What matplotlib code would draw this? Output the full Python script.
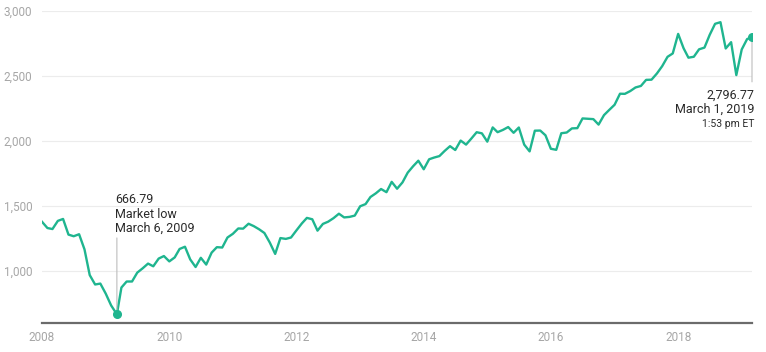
import matplotlib
matplotlib.use("Agg")
import matplotlib.pyplot as plt
import pandas as pd

# S&P 500 monthly closes (plotted at month start), plus the March 2009 low
dates = (
    [f"2008-{m:02d}-01" for m in range(1, 13)]
    + ["2009-01-01", "2009-02-01", "2009-03-06"]
    + [f"2009-{m:02d}-01" for m in range(4, 13)]
    + [f"{y}-{m:02d}-01" for y in range(2010, 2019) for m in range(1, 13)]
    + ["2019-01-01", "2019-02-01", "2019-03-01"]
)
values = [
    1378.55, 1330.63, 1322.70, 1385.59, 1400.38, 1280.00, 1267.38, 1282.83, 1166.36, 968.75, 896.24, 903.25,
    825.88, 735.09, 666.79, 872.81, 919.14, 919.32, 987.48, 1020.62, 1057.08, 1036.19, 1095.63, 1115.10,
    1073.87, 1104.49, 1169.43, 1186.69, 1089.41, 1030.71, 1101.60, 1049.33, 1141.20, 1183.26, 1180.55, 1257.64,
    1286.12, 1327.22, 1325.83, 1363.61, 1345.20, 1320.64, 1292.28, 1218.89, 1131.42, 1253.30, 1246.96, 1257.60,
    1312.41, 1365.68, 1408.47, 1397.91, 1310.33, 1362.16, 1379.32, 1406.58, 1440.67, 1412.16, 1416.18, 1426.19,
    1498.11, 1514.68, 1569.19, 1597.57, 1630.74, 1606.28, 1685.73, 1632.97, 1681.55, 1756.54, 1805.81, 1848.36,
    1782.59, 1859.45, 1872.34, 1883.95, 1923.57, 1960.23, 1930.67, 2003.37, 1972.29, 2018.05, 2067.56, 2058.90,
    1994.99, 2104.50, 2067.89, 2085.51, 2107.39, 2063.11, 2103.84, 1972.18, 1920.03, 2079.36, 2080.41, 2043.94,
    1940.24, 1932.23, 2059.74, 2065.30, 2096.95, 2098.86, 2173.60, 2170.95, 2168.27, 2126.15, 2198.81, 2238.83,
    2278.87, 2363.64, 2362.72, 2384.20, 2411.80, 2423.41, 2470.30, 2471.65, 2519.36, 2575.26, 2647.58, 2673.61,
    2823.81, 2713.83, 2640.87, 2648.05, 2705.27, 2718.37, 2816.29, 2901.52, 2913.98, 2711.74, 2760.17, 2506.85,
    2704.10, 2784.49, 2796.77,
]
low_date, low_value = "2009-03-06", 666.79
last_date, last_value = "2019-03-01", 2796.77
y_ticks = [1000, 1500, 2000, 2500, 3000]
x_years = [2008, 2010, 2012, 2014, 2016, 2018]

TEAL = "#1fb58f"
plt.rcParams["font.family"] = ["Roboto", "DejaVu Sans"]

df = pd.DataFrame({"date": pd.to_datetime(dates), "value": values})

fig = plt.figure(figsize=(7.66, 3.52), dpi=100)
ax = fig.add_axes([42 / 766, 29 / 352, 710 / 766, 312 / 352])

ax.plot(df["date"], df["value"], color=TEAL, lw=1.7, solid_joinstyle="round", zorder=3)

for d, v in [(low_date, low_value), (last_date, last_value)]:
    ax.plot(pd.Timestamp(d), v, "o", color=TEAL, ms=5.5, zorder=4)

ax.set_xlim(pd.Timestamp("2008-01-01"), pd.Timestamp("2019-03-01"))
ax.set_ylim(600, 3000)

ax.set_yticks(y_ticks)
ax.set_yticklabels([f"{t:,}" for t in y_ticks])
ax.set_xticks([pd.Timestamp(f"{y}-01-01") for y in x_years])
ax.set_xticklabels([str(y) for y in x_years])
ax.tick_params(axis="both", length=0, colors="#a6a6a6", labelsize=8.5)
ax.tick_params(axis="y", pad=7)
ax.tick_params(axis="x", pad=6)

ax.grid(axis="y", color="#ececec", lw=0.8)
ax.set_axisbelow(True)
for s in ["top", "right", "left"]:
    ax.spines[s].set_visible(False)
ax.spines["bottom"].set_color("#6b6b6b")
ax.spines["bottom"].set_linewidth(1.6)

# market low annotation
ax.annotate("", xy=(pd.Timestamp(low_date), low_value), xytext=(0, 55),
            textcoords="offset points",
            arrowprops=dict(arrowstyle="-", color="#bdbdbd", lw=0.8, shrinkA=0, shrinkB=3))
ax.annotate("666.79\nMarket low\nMarch 6, 2009", xy=(pd.Timestamp(low_date), low_value),
            xytext=(-1, 57), textcoords="offset points", ha="left", va="bottom",
            fontsize=9, color="#2b2b2b", linespacing=1.15)

# latest value annotation
ax.annotate("", xy=(pd.Timestamp(last_date), last_value), xytext=(0, -32),
            textcoords="offset points",
            arrowprops=dict(arrowstyle="-", color="#bdbdbd", lw=0.8, shrinkA=0, shrinkB=3))
ax.annotate("2,796.77\nMarch 1, 2019", xy=(pd.Timestamp(last_date), last_value),
            xytext=(2, -37), textcoords="offset points", ha="right", va="top",
            fontsize=9, color="#2b2b2b", linespacing=1.1)
ax.annotate("1:53 pm ET", xy=(pd.Timestamp(last_date), last_value),
            xytext=(2, -59), textcoords="offset points", ha="right", va="top",
            fontsize=7.5, color="#2b2b2b")

fig.savefig("out.png", dpi=100)
